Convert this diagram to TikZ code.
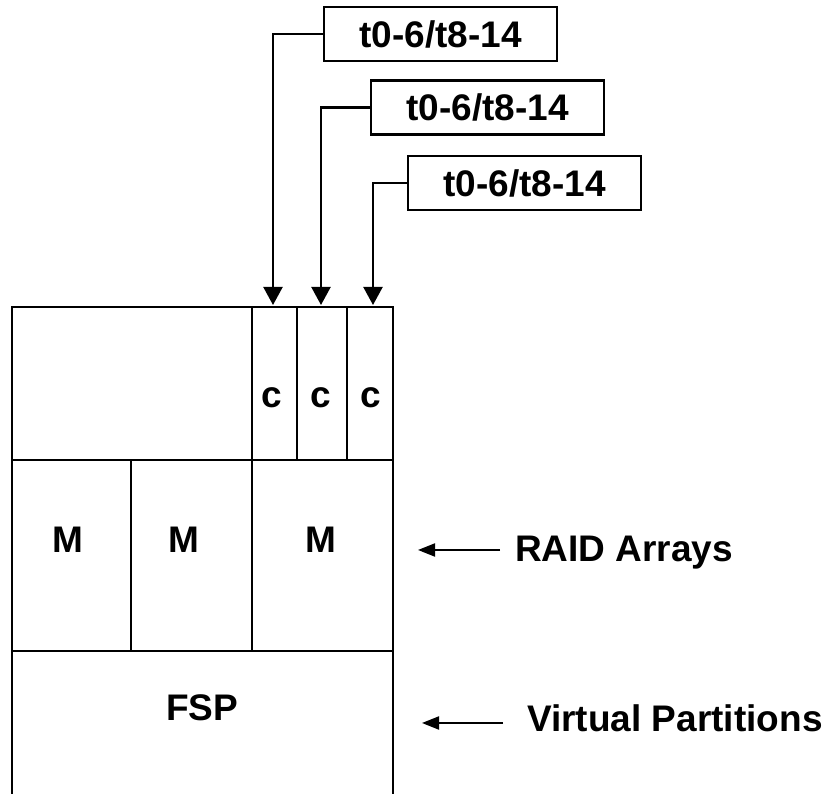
\documentclass[tikz,border=0pt]{standalone}
\usepackage{fontspec}
\setmainfont{Liberation Sans}
\usetikzlibrary{arrows.meta, positioning}

\begin{document}
\begin{tikzpicture}[
    x=1pt, y=1pt,
    font=\fontsize{37}{40}\selectfont\bfseries,
    frame/.style={line width=2.8pt},
    tagbox/.style={rectangle, draw=black, line width=2.2pt, minimum width=233pt, minimum height=54pt, inner sep=0pt},
    feed/.style={line width=2.2pt, -{Triangle[width=19pt,length=18pt]}},
    pointer/.style={line width=2pt, -{Triangle[width=13pt,length=17pt]}},
    cell/.style={anchor=base, inner sep=0pt}
]
    \useasboundingbox (0,0) rectangle (830,794);

    % Storage frame and its partitions
    \draw[frame] (12,0) -- (12,487) -- (393,487) -- (393,0);
    \draw[frame] (12,334) -- (393,334);
    \draw[frame] (12,143) -- (393,143);
    \draw[frame] (131,334) -- (131,143);
    \draw[frame] (252,487) -- (252,143);
    \draw[frame] (297,487) -- (297,334);
    \draw[frame] (347,487) -- (347,334);

    % Cell labels
    \node[cell] (c1) at (271.5,386) {c};
    \node[cell] (c2) at (321,386) {c};
    \node[cell] (c3) at (371,386) {c};
    \node[cell] (m1) at (68,241) {M};
    \node[cell] (m2) at (184,241) {M};
    \node[cell] (m3) at (320.5,241) {M};
    \node[cell] (fsp) at (202,73) {FSP};

    % Thread tags
    \node[tagbox] (tag1) at (440.5,760) {t0-6/t8-14};
    \node[tagbox] (tag2) at (487.5,686.5) {t0-6/t8-14};
    \node[tagbox] (tag3) at (524.5,611) {t0-6/t8-14};

    \coordinate (in1) at (273,489);
    \coordinate (in2) at (321,489);
    \coordinate (in3) at (373,489);

    \draw[feed] (tag1.west) -| (in1);
    \draw[feed] (tag2.west) -| (in2);
    \draw[feed] (tag3.west) -| (in3);

    % Side labels
    \node[anchor=base west, inner sep=0pt] (raid) at (515,232) {RAID Arrays};
    \node[anchor=base west, inner sep=0pt] (virt) at (527,62) {Virtual Partitions};

    \coordinate (raidtip) at (418,244);
    \coordinate (virttip) at (422,71);

    \draw[pointer] ([xshift=-15pt]raid.west |- raidtip) -- (raidtip);
    \draw[pointer] ([xshift=-24pt]virt.west |- virttip) -- (virttip);
\end{tikzpicture}
\end{document}
